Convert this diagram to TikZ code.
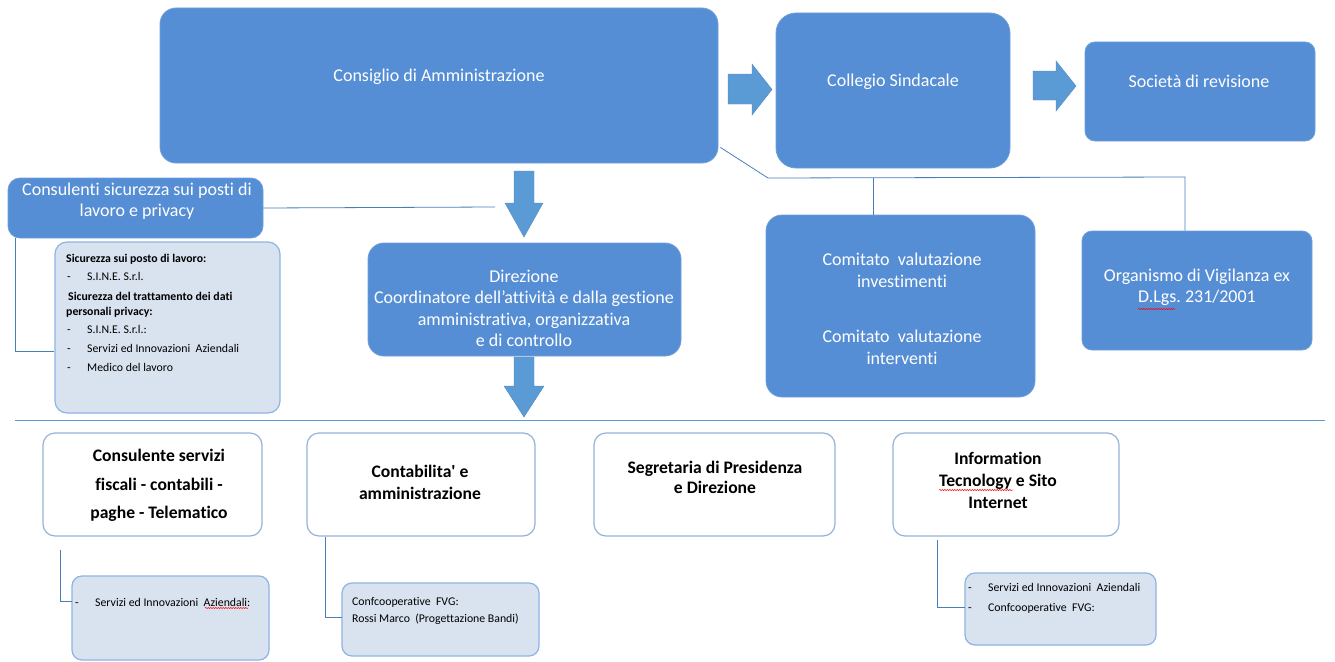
\documentclass[tikz,border=0pt]{standalone}
\usepackage{fontspec}
\setmainfont{Carlito}
\newfontfamily\calf{Carlito}[Ligatures=NoCommon]
\usetikzlibrary{calc,decorations.pathmorphing}
\definecolor{boxblue}{HTML}{558ED5}
\definecolor{arrblue}{HTML}{5B9BD5}
\definecolor{linblue}{HTML}{4A7EBB}
\definecolor{detfill}{HTML}{D9E2EF}
\definecolor{detedge}{HTML}{8EB4E3}
\definecolor{wedge}{HTML}{95B3D7}
\newcommand{\dashitem}[1]{\makebox[20pt][l]{-}#1}
\begin{document}
\frenchspacing
\begin{tikzpicture}[x=1pt,y=-1pt,
  bluebox/.style={fill=boxblue, draw=boxblue!85!white, line width=0.8pt, rounded corners=14pt, inner sep=0pt},
  detbox/.style={fill=detfill, draw=detedge, line width=1.2pt, rounded corners=10pt, inner sep=0pt},
  whitebox/.style={fill=white, draw=wedge, line width=1.2pt, rounded corners=12pt, inner sep=0pt},
  wtxt/.style={text=white, font=\calf\fontsize{18}{21.5}\selectfont, align=center, inner sep=0pt},
  btxt/.style={text=black, font=\calf\bfseries\fontsize{17.6}{22}\selectfont, align=center, inner sep=0pt},
  dtxt/.style={text=black, font=\calf\fontsize{11.8}{13}\selectfont, anchor=base west, inner sep=0pt},
  dbtxt/.style={text=black, font=\calf\bfseries\fontsize{11.8}{13}\selectfont, anchor=base west, inner sep=0pt},
  conn/.style={draw=linblue, line width=0.8pt},
  blockarrow/.style={fill=arrblue, draw=arrblue!90!black, line width=0.4pt},
  wavy/.style={draw=red, line width=0.5pt, decorate, decoration={snake, segment length=2.5pt, amplitude=0.6pt}}
]
\useasboundingbox (0,0) rectangle (1335,661);
\fill[white] (0,0) rectangle (1335,661);

% ---------- top blue boxes ----------
\node[bluebox, minimum width=558pt, minimum height=155pt, rounded corners=16pt] (cda) at (439,85.5) {};
\node[wtxt] (cdaT) at (439,77) {Consiglio di Amministrazione};

\node[bluebox, minimum width=234pt, minimum height=155pt, rounded corners=20pt] (col) at (893,90.5) {};
\node[wtxt] (colT) at (893,82) {Collegio Sindacale};

\node[bluebox, minimum width=230pt, minimum height=99pt, rounded corners=10pt] (soc) at (1200,91.5) {};
\node[wtxt] (socT) at (1199,81) {Società di revisione};

% block arrows right
\fill[blockarrow] (728,74) -- (752,74) -- (752,64) -- (772,89.5) -- (752,115) -- (752,104) -- (728,104) -- cycle;
\fill[blockarrow] (1033,71) -- (1056,71) -- (1056,61) -- (1076,86) -- (1056,111) -- (1056,100) -- (1033,100) -- cycle;

% ---------- consulenti ----------
\node[bluebox, minimum width=255pt, minimum height=60pt, rounded corners=12pt] (cons) at (135.5,208) {};
\node[wtxt] (consT) at (137,201) {Consulenti sicurezza sui posti di\\lavoro e privacy};

\node[detbox, minimum width=225pt, minimum height=171pt, rounded corners=12pt] (det0) at (167.5,327.5) {};
\node[dbtxt] (d0a) at (66,262) {Sicurezza sui posto di lavoro:};
\node[dtxt] (d0b) at (67,280) {\dashitem{S.I.N.E. S.r.l.}};
\node[dbtxt] (d0d) at (68,300) {Sicurezza del trattamento dei dati};
\node[dbtxt] (d0e) at (66,315) {personali privacy:};
\node[dtxt] (d0f) at (67,333) {\dashitem{S.I.N.E. S.r.l.:}};
\node[dtxt] (d0h) at (67,352) {\dashitem{Servizi ed Innovazioni\ \ Aziendali}};
\node[dtxt] (d0j) at (67,371) {\dashitem{Medico del lavoro}};

\coordinate (consJ) at (495,207);
\draw[conn] (cons.east) -- (consJ);
\draw[conn] ($(cons.south west)+(8,0)$) |- ($(det0.west)+(0,24)$);

% ---------- direzione ----------
\fill[blockarrow] (514,171) -- (534,171) -- (534,203) -- (543,203) -- (524,237) -- (505,203) -- (514,203) -- cycle;
\node[bluebox, minimum width=313pt, minimum height=113pt, rounded corners=16pt] (dir) at (524.5,299.5) {};
\node[wtxt] (dirT) at (524,308.5) {Direzione\\Coordinatore dell’attività e dalla gestione\\amministrativa, organizzativa\\e di controllo};
\fill[blockarrow] (514,357) -- (534,357) -- (534,386) -- (544,386) -- (524,417) -- (504,386) -- (514,386) -- cycle;

% ---------- comitati / organismo ----------
\node[bluebox, minimum width=269pt, minimum height=182pt, rounded corners=16pt] (com) at (900.5,306) {};
\node[wtxt] (comT1) at (902,270.5) {Comitato\ \ valutazione\\investimenti};
\node[wtxt] (comT2) at (902,347.5) {Comitato\ \ valutazione\\interventi};

\node[bluebox, minimum width=230pt, minimum height=119pt, rounded corners=10pt] (org) at (1197,290.5) {};
\node[wtxt] (orgT) at (1197,287.5) {Organismo di Vigilanza ex\\D.Lgs. 231/2001};
\draw[wavy] (1138,309) -- (1175,309);

\coordinate (jL) at (768,178);
\coordinate (jR) at (1185,177);
\coordinate (jM) at (873,177.5);
\draw[conn] ($(cda.south east)+(2,-16)$) -- (jL) -- (jR) -- (jR |- org.north);
\draw[conn] (jM) -- (jM |- com.north);

% ---------- separator ----------
\coordinate (sepL) at (15,420);
\coordinate (sepR) at (1325,420);
\draw[draw=arrblue, line width=0.9pt] (sepL) -- (sepR);

% ---------- bottom boxes ----------
\node[whitebox, minimum width=219pt, minimum height=103pt] (b1) at (152.5,484.5) {};
\node[btxt, font=\calf\bfseries\fontsize{17.6}{28.5}\selectfont] (b1T) at (159,485.5) {Consulente servizi\\fiscali - contabili -\\paghe - Telematico};
\node[detbox, minimum width=197pt, minimum height=84pt] (d1) at (170.5,618) {};
\node[dtxt] (d1a) at (75,606) {\dashitem{Servizi ed Innovazioni\ \ Aziendali:}};
\draw[wavy] (205,608) -- (248,608);
\coordinate (b1s) at (60,550);
\coordinate (d1e) at (72,601);
\draw[conn] (b1s) |- (d1e);

\node[whitebox, minimum width=228pt, minimum height=103pt] (b2) at (421,484.5) {};
\node[btxt] (b2T) at (420,482.5) {Contabilita' e\\amministrazione};
\node[detbox, minimum width=197pt, minimum height=73pt] (d2) at (440.5,619.5) {};
\node[dtxt] (d2a) at (352,605) {Confcooperative\ \ FVG:};
\node[dtxt] (d2b) at (352,622) {Rossi Marco\ \ (Progettazione Bandi)};
\coordinate (d2e) at (342,617);
\draw[conn] ($(b2.south west)+(19,0)$) |- (d2e);

\node[whitebox, minimum width=241pt, minimum height=103pt] (b3) at (714.5,484.5) {};
\node[btxt, font=\calf\bfseries\fontsize{17.6}{20}\selectfont] (b3T) at (715,477) {Segretaria di Presidenza\\e Direzione};

\node[whitebox, minimum width=226pt, minimum height=103pt] (b4) at (1006,484.5) {};
\node[btxt] (b4T) at (998,480) {Information\\Tecnology e Sito\\Internet};
\draw[wavy] (939,490) -- (1013,490);
\node[detbox, minimum width=191pt, minimum height=72pt] (d4) at (1060.5,609) {};
\node[dtxt] (d4a) at (968,591) {\dashitem{Servizi ed Innovazioni\ \ Aziendali}};
\node[dtxt] (d4c) at (968,611) {\dashitem{Confcooperative\ \ FVG:}};
\coordinate (b4s) at (937,540);
\coordinate (d4e) at (965,607);
\draw[conn] (b4s) |- (d4e);
\end{tikzpicture}
\end{document}
